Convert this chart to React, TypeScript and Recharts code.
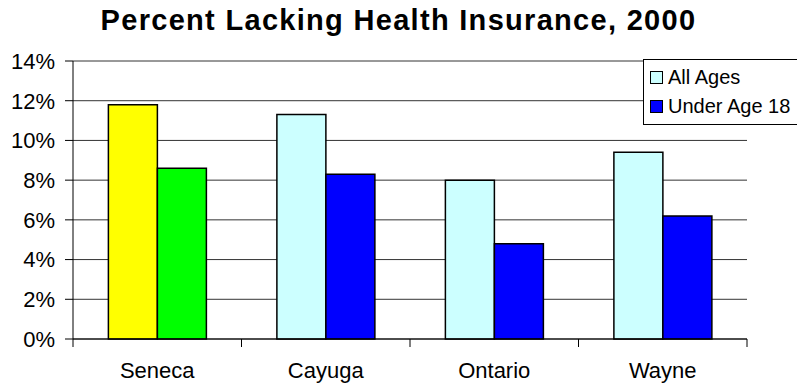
import {
  BarChart,
  Bar,
  Cell,
  XAxis,
  YAxis,
  CartesianGrid,
} from "recharts";

const counties = ["Seneca", "Cayuga", "Ontario", "Wayne"];
const allAges = [11.8, 11.3, 8.0, 9.4];
const underAge18 = [8.6, 8.3, 4.8, 6.2];
const yTicks = [0, 2, 4, 6, 8, 10, 12, 14];

const data = counties.map((county, i) => ({
  county,
  allAges: allAges[i],
  underAge18: underAge18[i],
}));

const FONT = "'Liberation Sans', Arial, Helvetica, sans-serif";

// Seneca is drawn in its own colours in the original
const allAgesColor = (name: string) => (name === "Seneca" ? "#FFFF00" : "#CCFFFF");
const under18Color = (name: string) => (name === "Seneca" ? "#00FF00" : "#0000FF");

// eslint-disable-next-line @typescript-eslint/no-explicit-any
const CountyTick = (props: any) => {
  const { x, y, payload, index, visibleTicksCount } = props;
  const half = payload?.offset ?? 84;
  const axisY = y - 8;
  return (
    <g>
      <line x1={x - half} x2={x - half} y1={axisY} y2={axisY + 8} stroke="#000" />
      {index === visibleTicksCount - 1 && (
        <line x1={x + half} x2={x + half} y1={axisY} y2={axisY + 8} stroke="#000" />
      )}
      <text
        x={x}
        y={y + 31}
        textAnchor="middle"
        fontFamily={FONT}
        fontSize={22}
        fill="#000"
      >
        {payload.value}
      </text>
    </g>
  );
};

const LegendBox = () => (
  <div
    style={{
      position: "absolute",
      left: 643,
      top: 59,
      border: "1px solid #000",
      background: "#fff",
      width: 170,
      height: 66,
      fontFamily: FONT,
      fontSize: 20,
      boxSizing: "border-box",
      padding: "3px 0 0 6px",
    }}
  >
    {[
      { label: "All Ages", color: "#CCFFFF" },
      { label: "Under Age 18", color: "#0000FF" },
    ].map((item) => (
      <div
        key={item.label}
        style={{ display: "flex", alignItems: "center", height: 29 }}
      >
        <span
          style={{
            width: 11,
            height: 11,
            border: "1px solid #000",
            background: item.color,
            marginRight: 5,
            display: "inline-block",
          }}
        />
        {item.label}
      </div>
    ))}
  </div>
);

export default function App() {
  return (
    <div
      style={{
        position: "absolute",
        left: 0,
        top: 0,
        width: 797,
        height: 389,
        background: "#fff",
        overflow: "hidden",
      }}
    >
      <div
        style={{
          position: "absolute",
          left: 0,
          width: 797,
          top: 4,
          textAlign: "center",
          fontFamily: FONT,
          fontWeight: "bold",
          fontSize: 29,
          letterSpacing: 1.3,
          color: "#000",
        }}
      >
        Percent Lacking Health Insurance, 2000
      </div>
      <BarChart
        width={797}
        height={389}
        data={data}
        margin={{ top: 61, right: 50, bottom: 10, left: 0 }}
        barCategoryGap="21%"
        barGap={0}
      >
        <CartesianGrid vertical={false} stroke="#333" strokeWidth={1} />
        <XAxis
          dataKey="county"
          height={40}
          axisLine={{ stroke: "#000" }}
          tickLine={false}
          tick={<CountyTick />}
          interval={0}
        />
        <YAxis
          width={73}
          domain={[0, 14]}
          ticks={yTicks}
          tickFormatter={(v: number) => `${v}%`}
          axisLine={{ stroke: "#000" }}
          tickLine={{ stroke: "#000" }}
          tickSize={8}
          tickMargin={10}
          tick={{ fill: "#000", fontFamily: FONT, fontSize: 22 }}
        />
        <Bar
          dataKey="allAges"
          name="All Ages"
          fill="#CCFFFF"
          stroke="#000"
          strokeWidth={1.5}
          isAnimationActive={false}
        >
          {data.map((d, i) => (
            <Cell key={`a-${i}`} fill={allAgesColor(d.county)} />
          ))}
        </Bar>
        <Bar
          dataKey="underAge18"
          name="Under Age 18"
          fill="#0000FF"
          stroke="#000"
          strokeWidth={1.5}
          isAnimationActive={false}
        >
          {data.map((d, i) => (
            <Cell key={`u-${i}`} fill={under18Color(d.county)} />
          ))}
        </Bar>
      </BarChart>
      <LegendBox />
    </div>
  );
}
